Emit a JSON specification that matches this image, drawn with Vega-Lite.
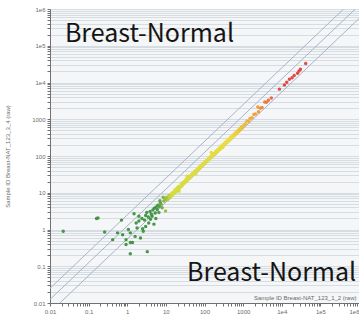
{
  "$schema": "https://vega.github.io/schema/vega-lite/v6.json",
  "width": 309,
  "height": 294,
  "autosize": {"type": "none"},
  "padding": {"left": 50, "top": 9, "right": 0, "bottom": 17},
  "background": "#ffffff",
  "config": {
    "view": {"fill": "#f4f6f7", "stroke": null},
    "axis": {
      "labelFont": "Liberation Sans",
      "labelFontSize": 6,
      "labelColor": "#6a6a6a",
      "titleFont": "Liberation Sans",
      "titleFontSize": 6,
      "titleFontWeight": "normal",
      "titleColor": "#6a6a6a",
      "domainColor": "#707070",
      "tickColor": "#707070",
      "tickSize": 3,
      "labelPadding": 2
    }
  },
  "datasets": {
    "pts": [
      {"x": 0.022, "y": 0.9}, {"x": 0.16, "y": 2.0}, {"x": 0.175, "y": 2.05}, {"x": 0.26, "y": 0.86},
      {"x": 0.42, "y": 0.53}, {"x": 0.56, "y": 0.81}, {"x": 0.71, "y": 1.8}, {"x": 0.76, "y": 0.72},
      {"x": 0.93, "y": 0.53}, {"x": 0.93, "y": 0.39}, {"x": 1.07, "y": 1.0}, {"x": 1.2, "y": 0.81},
      {"x": 1.2, "y": 0.44}, {"x": 1.2, "y": 0.22}, {"x": 1.37, "y": 0.44}, {"x": 1.5, "y": 2.7},
      {"x": 1.7, "y": 1.5}, {"x": 2.0, "y": 2.3}, {"x": 2.0, "y": 1.7}, {"x": 2.2, "y": 0.59},
      {"x": 2.5, "y": 1.05}, {"x": 3.3, "y": 0.25}, {"x": 3.6, "y": 1.5}, {"x": 4.4, "y": 2.3},
      {"x": 4.9, "y": 1.4}, {"x": 6.6, "y": 2.9}, {"x": 9.8, "y": 3.2}, {"x": 7.2, "y": 5.3},
      {"x": 8.9, "y": 6.0}, {"x": 2.4, "y": 2.0}, {"x": 2.8, "y": 1.8}, {"x": 3.0, "y": 2.4},
      {"x": 3.2, "y": 2.9}, {"x": 3.5, "y": 2.2}, {"x": 3.9, "y": 3.1}, {"x": 4.2, "y": 2.6},
      {"x": 4.6, "y": 3.4}, {"x": 5.0, "y": 3.8}, {"x": 5.3, "y": 2.8}, {"x": 5.6, "y": 4.1},
      {"x": 6.0, "y": 3.5}, {"x": 6.2, "y": 4.6}, {"x": 6.8, "y": 4.2}, {"x": 7.5, "y": 4.9},
      {"x": 8.0, "y": 3.9}, {"x": 3.0, "y": 1.2}, {"x": 2.6, "y": 0.9}, {"x": 1.8, "y": 1.1},
      {"x": 1.6, "y": 0.65}, {"x": 5.5, "y": 2.0}, {"x": 4.0, "y": 1.9}, {"x": 7.0, "y": 6.1},
      {"x": 8.5, "y": 7.5}, {"x": 9.5, "y": 6.8},
      {"x": 10, "y": 6.8}, {"x": 10.5, "y": 7.6}, {"x": 11, "y": 6.5}, {"x": 12, "y": 8.4},
      {"x": 12.5, "y": 7.2}, {"x": 13, "y": 8.0}, {"x": 14, "y": 9.6}, {"x": 14.5, "y": 8.3},
      {"x": 15, "y": 10.2}, {"x": 16, "y": 9.4}, {"x": 17, "y": 11.8}, {"x": 17.5, "y": 10.1},
      {"x": 18, "y": 12.5}, {"x": 19, "y": 11.2}, {"x": 20, "y": 13.9}, {"x": 21, "y": 12.6},
      {"x": 22, "y": 15.1}, {"x": 23, "y": 13.5}, {"x": 25, "y": 17.2}, {"x": 26, "y": 15.2},
      {"x": 27, "y": 18.6}, {"x": 29, "y": 17.5}, {"x": 30, "y": 20.4}, {"x": 31, "y": 18.7},
      {"x": 33, "y": 22.8}, {"x": 34, "y": 20.9}, {"x": 36, "y": 24.5}, {"x": 37, "y": 22.7},
      {"x": 40, "y": 27.5}, {"x": 42, "y": 25.1}, {"x": 44, "y": 30.2}, {"x": 47, "y": 28.6},
      {"x": 49, "y": 33.6}, {"x": 51, "y": 31.2}, {"x": 54, "y": 37.5}, {"x": 57, "y": 35.4},
      {"x": 60, "y": 41.0}, {"x": 63, "y": 38.6}, {"x": 67, "y": 45.7}, {"x": 70, "y": 43.2},
      {"x": 74, "y": 50.8}, {"x": 78, "y": 47.5}, {"x": 82, "y": 56.1}, {"x": 86, "y": 53.0},
      {"x": 91, "y": 61.8}, {"x": 96, "y": 59.2}, {"x": 101, "y": 69.5}, {"x": 107, "y": 65.1},
      {"x": 113, "y": 77.2}, {"x": 119, "y": 73.0}, {"x": 126, "y": 85.9}, {"x": 133, "y": 80.9},
      {"x": 140, "y": 96.2}, {"x": 148, "y": 90.6}, {"x": 156, "y": 107}, {"x": 165, "y": 101},
      {"x": 174, "y": 118}, {"x": 184, "y": 112}, {"x": 195, "y": 134}, {"x": 206, "y": 125},
      {"x": 218, "y": 148}, {"x": 230, "y": 141}, {"x": 243, "y": 166}, {"x": 257, "y": 156},
      {"x": 271, "y": 186}, {"x": 287, "y": 175}, {"x": 303, "y": 207}, {"x": 320, "y": 195},
      {"x": 338, "y": 232}, {"x": 357, "y": 218}, {"x": 377, "y": 257}, {"x": 398, "y": 243},
      {"x": 420, "y": 288}, {"x": 444, "y": 270}, {"x": 469, "y": 322}, {"x": 495, "y": 302},
      {"x": 523, "y": 356}, {"x": 552, "y": 338}, {"x": 583, "y": 400}, {"x": 615, "y": 375},
      {"x": 650, "y": 446}, {"x": 686, "y": 418}, {"x": 724, "y": 495}, {"x": 765, "y": 467},
      {"x": 808, "y": 553}, {"x": 853, "y": 520}, {"x": 900, "y": 615}, {"x": 950, "y": 580},
      {"x": 35, "y": 28}, {"x": 60, "y": 33}, {"x": 150, "y": 125}, {"x": 300, "y": 170}, {"x": 22, "y": 11},
      {"x": 1000, "y": 640}, {"x": 1050, "y": 700}, {"x": 1150, "y": 760}, {"x": 1250, "y": 900},
      {"x": 1400, "y": 880}, {"x": 1500, "y": 1050}, {"x": 1700, "y": 1100}, {"x": 1900, "y": 1350},
      {"x": 2100, "y": 1400}, {"x": 2400, "y": 2140}, {"x": 2500, "y": 1600}, {"x": 2800, "y": 2000},
      {"x": 3100, "y": 2100}, {"x": 3630, "y": 2950}, {"x": 4000, "y": 2900}, {"x": 4500, "y": 3300},
      {"x": 5370, "y": 3800},
      {"x": 8700, "y": 6600}, {"x": 11700, "y": 8500}, {"x": 13500, "y": 10200}, {"x": 15800, "y": 12300},
      {"x": 18500, "y": 13500}, {"x": 21000, "y": 15500}, {"x": 25700, "y": 17800}, {"x": 28000, "y": 20500},
      {"x": 30500, "y": 23000}, {"x": 41700, "y": 33100}
    ],
    "lines": [
      {"line": "upper", "x": 0.01, "y": 0.025}, {"line": "upper", "x": 400000, "y": 1000000},
      {"line": "mid", "x": 0.01, "y": 0.0125}, {"line": "mid", "x": 800000, "y": 1000000},
      {"line": "lower", "x": 0.018, "y": 0.01}, {"line": "lower", "x": 1000000, "y": 550000}
    ],
    "labels": [
      {"label": "Breast-Normal", "x": 0.0243, "y": 125000},
      {"label": "Breast-Normal", "x": 35.3, "y": 0.0401}
    ]
  },
  "encoding": {
    "x": {
      "field": "x", "type": "quantitative",
      "scale": {"type": "log", "domain": [0.01, 1000000], "nice": false},
      "axis": {
        "title": "Sample ID Breast-NAT_123_1_2 (raw)",
        "titleAnchor": "end",
        "titleAlign": "right",
        "titleBaseline": "bottom",
        "titleY": -3,
        "titleX": 306,
        "grid": false,
        "values": [0.01,0.02,0.03,0.04,0.05,0.06,0.07,0.08,0.09,0.1,0.2,0.3,0.4,0.5,0.6,0.7,0.8,0.9,1,2,3,4,5,6,7,8,9,10,20,30,40,50,60,70,80,90,100,200,300,400,500,600,700,800,900,1000,2000,3000,4000,5000,6000,7000,8000,9000,10000,20000,30000,40000,50000,60000,70000,80000,90000,100000,200000,300000,400000,500000,600000,700000,800000,900000,1000000],
        "labelExpr": "indexof([0.01,0.1,1,10,100,1000],datum.value)>=0 ? (datum.value<1 ? toString(datum.value) : format(datum.value,'d')) : (datum.value==10000 ? '1e4' : datum.value==100000 ? '1e5' : datum.value==1000000 ? '1e6' : '')",
        "labelAlign": {"expr": "datum.value == 1000000 ? 'right' : 'center'"},
        "labelOverlap": false
      }
    },
    "y": {
      "field": "y", "type": "quantitative",
      "scale": {"type": "log", "domain": [0.01, 1000000], "nice": false},
      "axis": {
        "title": "Sample ID Breast-NAT_123_3_4 (raw)",
        "titleX": -40,
        "grid": true,
        "gridColor": "#d6dde2",
        "gridWidth": 1,
        "values": [0.01,0.02,0.03,0.04,0.05,0.06,0.07,0.08,0.09,0.1,0.2,0.3,0.4,0.5,0.6,0.7,0.8,0.9,1,2,3,4,5,6,7,8,9,10,20,30,40,50,60,70,80,90,100,200,300,400,500,600,700,800,900,1000,2000,3000,4000,5000,6000,7000,8000,9000,10000,20000,30000,40000,50000,60000,70000,80000,90000,100000,200000,300000,400000,500000,600000,700000,800000,900000,1000000],
        "labelExpr": "indexof([0.01,0.1,1,10,100,1000],datum.value)>=0 ? (datum.value<1 ? toString(datum.value) : format(datum.value,'d')) : (datum.value==10000 ? '1e4' : datum.value==100000 ? '1e5' : datum.value==1000000 ? '1e6' : '')",
        "labelOverlap": false
      }
    }
  },
  "layer": [
    {
      "data": {"name": "lines"},
      "mark": {"type": "line", "clip": true, "color": "#a8b3cc", "strokeWidth": 1},
      "encoding": {
        "detail": {"field": "line"}
      }
    },
    {
      "data": {"name": "pts"},
      "mark": {"type": "circle", "size": 12, "opacity": 0.95, "clip": true},
      "encoding": {
        "color": {
          "field": "x", "type": "quantitative",
          "scale": {"type": "log", "domain": [6, 14, 500, 2500, 9000], "range": ["#3d9140", "#d3dc3a", "#ecdc3c", "#f09535", "#e2403a"], "interpolate": "rgb", "clamp": true},
          "legend": null
        }
      }
    },
    {
      "data": {"name": "labels"},
      "mark": {"type": "text", "align": "left", "baseline": "alphabetic", "font": "Noto Sans CJK JP", "fontSize": 25, "color": "#151515"},
      "encoding": {
        "text": {"field": "label"}
      }
    }
  ]
}
